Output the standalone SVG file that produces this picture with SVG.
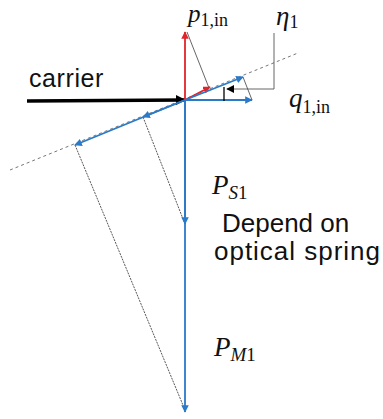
<svg xmlns="http://www.w3.org/2000/svg" width="383" height="419" viewBox="0 0 383 419">
<defs>
<marker id="ab" viewBox="0 0 10 10" refX="9" refY="5" markerWidth="4.2" markerHeight="4.2" orient="auto" markerUnits="strokeWidth"><path d="M0,0 L10,5 L0,10 z" fill="#2A7AC8"/></marker>
<marker id="ar" viewBox="0 0 10 10" refX="9" refY="5" markerWidth="4.2" markerHeight="4.2" orient="auto" markerUnits="strokeWidth"><path d="M0,0 L10,5 L0,10 z" fill="#E0242A"/></marker>
<marker id="ak" viewBox="0 0 10 10" refX="9" refY="5" markerWidth="3" markerHeight="3" orient="auto" markerUnits="strokeWidth"><path d="M0,0 L10,5 L0,10 z" fill="#000"/></marker>
<marker id="ak2" viewBox="0 0 10 10" refX="9" refY="5" markerWidth="9" markerHeight="9" orient="auto" markerUnits="strokeWidth"><path d="M0,0 L10,5 L0,10 z" fill="#000"/></marker>
</defs>
<style>
.b{stroke:#2A7AC8;stroke-width:1.8;fill:none;marker-end:url(#ab)}
.r{stroke:#E0242A;stroke-width:1.8;fill:none;marker-end:url(#ar)}
.g{stroke:#555;stroke-width:0.9;fill:none}
.p{stroke:#444;stroke-width:0.9;stroke-dasharray:2 1;fill:none}
.d{stroke:#777;stroke-width:1;stroke-dasharray:3 3;fill:none}
.m{font-family:"Liberation Serif",serif;font-style:italic;fill:#111}
.u{font-family:"Liberation Serif",serif;fill:#111}
.t{font-family:"Liberation Sans",Arial,sans-serif;fill:#111}
</style>
<g id="connectors">
<line class="d" x1="10" y1="170" x2="298" y2="53"/>
<line class="g" x1="187" y1="32" x2="209" y2="88"/>
<line class="g" x1="252" y1="100" x2="243" y2="77"/>
<line class="p" x1="143" y1="117" x2="185" y2="224"/>
<line class="p" x1="75" y1="145" x2="185" y2="410"/>
<line x1="27" y1="101" x2="185" y2="100" stroke="#000" stroke-width="3.5" marker-end="url(#ak)"/>
<line class="r" x1="185" y1="100" x2="185" y2="32"/>
<line class="r" x1="185" y1="100" x2="210" y2="87"/>
<line class="b" x1="185" y1="100" x2="243" y2="77"/>
<line class="b" x1="185" y1="100" x2="252" y2="100"/>
<line class="b" x1="185" y1="100" x2="143" y2="117"/>
<line class="b" x1="185" y1="100" x2="75" y2="145"/>
<line class="b" x1="185" y1="100" x2="185" y2="224"/>
<line class="b" x1="185" y1="100" x2="185" y2="412"/>
<line x1="224" y1="87" x2="224" y2="101" stroke="#000" stroke-width="1.3"/>
<polyline class="g" points="274,33 274,89 227,89" stroke-width="1.1" marker-end="url(#ak2)"/>
</g>
<g id="carrier"><text class="t" x="29" y="87" font-size="25" letter-spacing="0.6">carrier</text></g>
<g id="p1in"><text x="188" y="22"><tspan class="m" font-size="25">p</tspan><tspan class="u" font-size="18" dy="4">1,in</tspan></text></g>
<g id="eta1"><text x="276" y="25"><tspan class="m" font-size="27">η</tspan><tspan class="u" font-size="18" dy="3">1</tspan></text></g>
<g id="q1in"><text x="289" y="107"><tspan class="m" font-size="27">q</tspan><tspan class="u" font-size="18" dy="6">1,in</tspan></text></g>
<g id="PS1"><text x="212" y="194"><tspan class="m" font-size="27">P</tspan><tspan class="m" font-size="19" dy="5">S</tspan><tspan class="u" font-size="19">1</tspan></text></g>
<g id="spring"><text class="t" x="222" y="232" font-size="26">Depend on</text><text class="t" x="214" y="260" font-size="26" textLength="166" lengthAdjust="spacing">optical spring</text></g>
<g id="PM1"><text x="214" y="356"><tspan class="m" font-size="27">P</tspan><tspan class="m" font-size="19" dy="5">M</tspan><tspan class="u" font-size="19">1</tspan></text></g>
</svg>
